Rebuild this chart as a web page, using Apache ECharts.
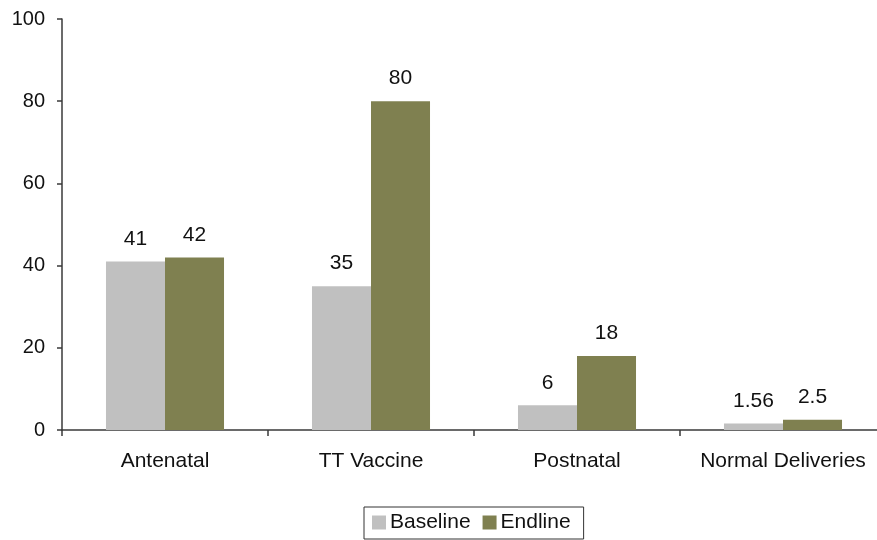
<!DOCTYPE html>
<html>
<head>
<meta charset="utf-8">
<script src="https://cdn.jsdelivr.net/npm/echarts@6/dist/echarts.min.js"></script>
<style>
  html, body { margin: 0; padding: 0; background: #fff; overflow: hidden; }
  /* the plot runs a little past the right edge of the window */
  #chart { width: 890px; height: 540px; }
</style>
</head>
<body>
<div id="chart"></div>
<script>
// Service coverage before and after the intervention
const categories = ['Antenatal', 'TT Vaccine', 'Postnatal', 'Normal Deliveries'];
const baseline = [41, 35, 6, 1.56];
const endline = [42, 80, 18, 2.5];
const yTicks = [0, 20, 40, 60, 80, 100];

const FONT = '"Liberation Sans", Arial, sans-serif';
const AXIS_COLOR = '#3a3a3a';

const chart = echarts.init(document.getElementById('chart'), null, { renderer: 'canvas' });

const labelStyle = {
  show: true,
  position: 'top',
  distance: 12,
  color: '#111',
  fontFamily: FONT,
  fontSize: 21
};

chart.setOption({
  animation: false,
  backgroundColor: '#fff',
  grid: { left: 62, top: 19, width: 824, height: 411, containLabel: false },
  legend: {
    data: ['Baseline', 'Endline'],
    left: 364,
    top: 507,
    orient: 'horizontal',
    icon: 'rect',
    itemWidth: 14,
    itemHeight: 14,
    itemGap: 12,
    padding: [5, 13, 6, 8],
    borderColor: '#333',
    borderWidth: 1,
    textStyle: { fontFamily: FONT, fontSize: 21, color: '#111', padding: [0, 0, 0, -1] }
  },
  xAxis: {
    type: 'category',
    data: categories,
    axisLine: { lineStyle: { color: AXIS_COLOR, width: 1.5 } },
    axisTick: { show: true, alignWithLabel: false, length: 6, lineStyle: { color: AXIS_COLOR, width: 1.5 } },
    axisLabel: { interval: 0, margin: 21, color: '#111', fontFamily: FONT, fontSize: 21 }
  },
  yAxis: {
    type: 'value',
    min: yTicks[0],
    max: yTicks[yTicks.length - 1],
    interval: yTicks[1] - yTicks[0],
    axisLine: { show: true, lineStyle: { color: AXIS_COLOR, width: 1.5 } },
    axisTick: { show: true, inside: false, length: 5, lineStyle: { color: AXIS_COLOR, width: 1.5 } },
    splitLine: { show: false },
    axisLabel: { margin: 17, color: '#111', fontFamily: FONT, fontSize: 20 }
  },
  series: [
    {
      name: 'Baseline',
      type: 'bar',
      data: baseline,
      barGap: '0%',
      barCategoryGap: '42.7%',
      itemStyle: { color: '#c0c0c0' },
      label: labelStyle
    },
    {
      name: 'Endline',
      type: 'bar',
      data: endline,
      itemStyle: { color: '#7f8050' },
      label: labelStyle
    }
  ]
});
</script>
</body>
</html>
